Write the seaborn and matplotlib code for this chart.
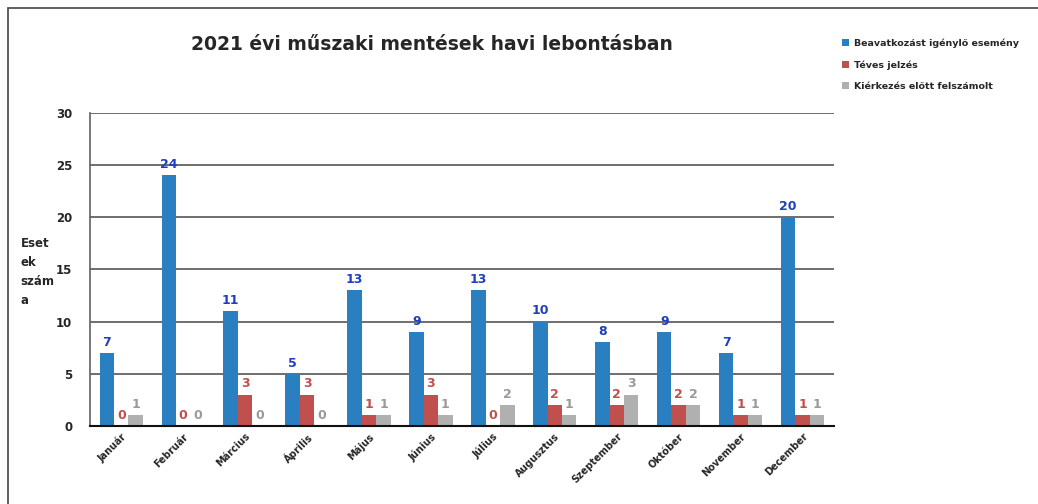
import matplotlib
matplotlib.use("Agg")
import matplotlib.pyplot as plt
import seaborn as sns
import pandas as pd

months = ["Január", "Február", "Március", "Április", "Május", "Június",
          "Július", "Augusztus", "Szeptember", "Október", "November", "December"]
beavatkozas = [7, 24, 11, 5, 13, 9, 13, 10, 8, 9, 7, 20]
teves = [0, 0, 3, 3, 1, 3, 0, 2, 2, 2, 1, 1]
kierkezes = [1, 0, 0, 0, 1, 1, 2, 1, 3, 2, 1, 1]
series_names = ["Beavatkozást igénylő esemény", "Téves jelzés", "Kiérkezés előtt felszámolt"]
colors = ["#2a7fc0", "#c0504d", "#b0b0b0"]
label_colors = ["#1f3fbf", "#c0504d", "#9a9a9a"]

rows = []
for name, vals in zip(series_names, [beavatkozas, teves, kierkezes]):
    for m, v in zip(months, vals):
        rows.append({"Hónap": m, "Sorozat": name, "Érték": v})
df = pd.DataFrame(rows)

sns.set_theme(style="white")
plt.rcParams['font.family'] = ['DejaVu Sans']

fig = plt.figure(figsize=(10.38, 5.04), dpi=100)
ax = fig.add_axes([0.087, 0.155, 0.716, 0.621])

sns.barplot(data=df, x="Hónap", y="Érték", hue="Sorozat", order=months,
            hue_order=series_names, palette=colors, width=0.7, gap=0,
            saturation=1, linewidth=0, ax=ax, legend=True)

for cont, lc in zip(ax.containers, label_colors):
    ax.bar_label(cont, fmt="%d", color=lc, fontsize=9, fontweight="bold", padding=3)

ax.set_ylim(0, 30)
ax.set_yticks(range(0, 31, 5))
ax.yaxis.grid(True, color="#555555", linewidth=1.2)
ax.set_axisbelow(True)
ax.set_xlabel("")
ax.set_ylabel("")
for s in ["top", "right"]:
    ax.spines[s].set_visible(False)
ax.spines["left"].set_color("#666666")
ax.spines["bottom"].set_color("#111111")
ax.spines["bottom"].set_linewidth(1.5)
ax.tick_params(axis="y", labelsize=8.5, length=0, pad=13)
ax.tick_params(axis="x", labelsize=7, length=0, pad=4)
for t in ax.get_yticklabels():
    t.set_fontweight("bold")
for t in ax.get_xticklabels():
    t.set_fontweight("bold")
    t.set_rotation(45)
    t.set_ha("right")
    t.set_rotation_mode("anchor")

fig.text(0.02, 0.46, "Eset\nek\nszám\na", fontsize=8.5, fontweight="bold",
         ha="left", va="center", linespacing=1.6)

fig.suptitle("2021 évi műszaki mentések havi lebontásban", x=0.416, y=0.93,
             fontsize=13.5, fontweight="bold")

leg = ax.legend(loc="upper left", bbox_to_anchor=(1.0, 1.265), frameon=False,
                fontsize=6.8, handlelength=0.7, handleheight=0.7,
                labelspacing=1.3, handletextpad=0.6)
for t in leg.get_texts():
    t.set_fontweight("bold")

fig.patches.append(plt.Rectangle((0.008, -0.01), 1.0, 0.995, transform=fig.transFigure,
                                 fill=False, edgecolor="#444444", linewidth=1.2))

fig.savefig("out.png", dpi=100)
